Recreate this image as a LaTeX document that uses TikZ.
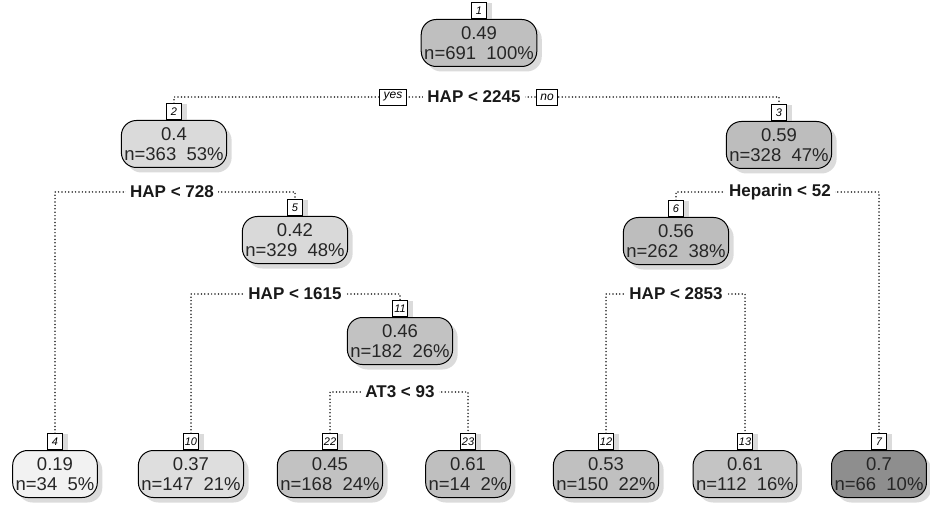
\documentclass[tikz,border=0pt]{standalone}
\usepackage{fontspec}
\setmainfont{Liberation Sans}
\usetikzlibrary{shadows,backgrounds}
\definecolor{c1}{HTML}{BFBFBF}
\definecolor{c2}{HTML}{DADADA}
\definecolor{c3}{HTML}{BDBDBD}
\definecolor{c4}{HTML}{F2F2F2}
\definecolor{c5}{HTML}{D9D9D9}
\definecolor{c6}{HTML}{BDBDBD}
\definecolor{c7}{HTML}{8E8E8E}
\definecolor{c10}{HTML}{DEDEDE}
\definecolor{c11}{HTML}{C2C2C2}
\definecolor{c12}{HTML}{C0C0C0}
\definecolor{c13}{HTML}{C4C4C4}
\definecolor{c22}{HTML}{C2C2C2}
\definecolor{c23}{HTML}{BFBFBF}
\begin{document}
\begin{tikzpicture}[x=1pt,y=-1pt,
 tnode/.style={draw, line width=1pt, rounded corners=15pt, minimum height=47pt,
   inner xsep=3pt, inner ysep=0pt, align=center, text=black!85,
   font=\fontsize{18.5}{20.5}\selectfont,
   drop shadow={shadow xshift=5pt, shadow yshift=-5pt, fill=black!28}},
 idbox/.style={draw, fill=white, line width=0.8pt, minimum width=15pt, minimum height=16pt,
   inner sep=1pt, anchor=south, font=\fontsize{11}{11}\selectfont\itshape,
   drop shadow={shadow xshift=5pt, shadow yshift=0pt, fill=black!28}},
 ynbox/.style={draw, fill=white, line width=0.8pt, minimum height=16pt, inner xsep=4pt,
   inner ysep=1pt, font=\fontsize{12}{12}\selectfont\itshape},
 splitlab/.style={fill=white, inner xsep=4pt, inner ysep=1pt, text=black!90,
   font=\fontsize{17}{17}\selectfont\bfseries},
 dline/.style={line width=1.7pt, line cap=round, dash pattern=on 0pt off 3.4pt, black!85}
]
\useasboundingbox (0,0) rectangle (930,508);

% inner nodes
\node[tnode, fill=c1] (n1) at (479,43) {0.49\\n=691\ \ 100\%};
\node[idbox] (l1) at (n1.north) {1};
\node[tnode, fill=c2] (n2) at (174,144) {0.4\\n=363\ \ 53\%};
\node[idbox] (l2) at (n2.north) {2};
\node[tnode, fill=c3] (n3) at (779,145) {0.59\\n=328\ \ 47\%};
\node[idbox] (l3) at (n3.north) {3};
\node[tnode, fill=c5] (n5) at (295,240) {0.42\\n=329\ \ 48\%};
\node[idbox] (l5) at (n5.north) {5};
\node[tnode, fill=c6] (n6) at (676,241) {0.56\\n=262\ \ 38\%};
\node[idbox] (l6) at (n6.north) {6};
\node[tnode, fill=c11] (n11) at (400,341) {0.46\\n=182\ \ 26\%};
\node[idbox] (l11) at (n11.north) {11};

% leaves
\node[tnode, fill=c4] (n4) at (55,474) {0.19\\n=34\ \ 5\%};
\node[idbox] (l4) at (n4.north) {4};
\node[tnode, fill=c10] (n10) at (191,474) {0.37\\n=147\ \ 21\%};
\node[idbox] (l10) at (n10.north) {10};
\node[tnode, fill=c22] (n22) at (330,474) {0.45\\n=168\ \ 24\%};
\node[idbox] (l22) at (n22.north) {22};
\node[tnode, fill=c23] (n23) at (468,474) {0.61\\n=14\ \ 2\%};
\node[idbox] (l23) at (n23.north) {23};
\node[tnode, fill=c12] (n12) at (606,474) {0.53\\n=150\ \ 22\%};
\node[idbox] (l12) at (n12.north) {12};
\node[tnode, fill=c13] (n13) at (745,474) {0.61\\n=112\ \ 16\%};
\node[idbox] (l13) at (n13.north) {13};
\node[tnode, fill=c7] (n7) at (879,474) {0.7\\n=66\ \ 10\%};
\node[idbox] (l7) at (n7.north) {7};

% split labels
\node[splitlab] (s1) at (474,97) {HAP < 2245};
\node[ynbox] (yes) at (393,97) {yes};
\node[ynbox] (no) at (547,97) {no};
\node[splitlab] (s2) at (172,192) {HAP < 728};
\node[splitlab] (s3) at (780,192) {Heparin < 52};
\node[splitlab] (s5) at (295,294) {HAP < 1615};
\node[splitlab] (s6) at (676,294) {HAP < 2853};
\node[splitlab] (s11) at (400,392) {AT3 < 93};

\begin{scope}[on background layer]
\draw[dline] (l2.north) |- (s1.center) -| (l3.north);
\draw[dline] (l4.north) |- (s2.center) -| (l5.north);
\draw[dline] (l6.north) |- (s3.center) -| (l7.north);
\draw[dline] (l10.north) |- (s5.center) -| (l11.north);
\draw[dline] (l12.north) |- (s6.center) -| (l13.north);
\draw[dline] (l22.north) |- (s11.center) -| (l23.north);
\end{scope}
\end{tikzpicture}
\end{document}
